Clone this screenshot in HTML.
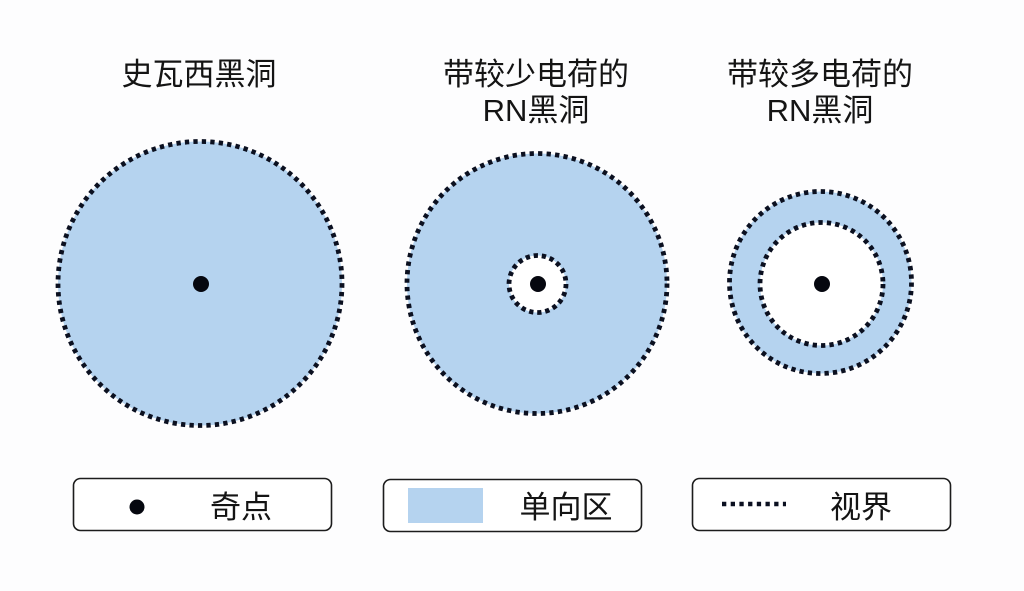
<!DOCTYPE html>
<html>
<head>
<meta charset="utf-8">
<style>
  html, body { margin:0; padding:0; background:#fdfdfe; }
  svg { display:block; }
  text { font-family: "Liberation Sans", "Noto Sans CJK SC", sans-serif; fill:#141414; font-size:31px; }
</style>
</head>
<body>
<svg width="1024" height="591" viewBox="0 0 1024 591" xmlns="http://www.w3.org/2000/svg">
  <rect x="0" y="0" width="1024" height="591" fill="#fdfdfe"/>

  <!-- Titles -->
  <text x="199" y="85" text-anchor="middle">史瓦西黑洞</text>
  <text x="536" y="85" text-anchor="middle">带较少电荷的</text>
  <text x="536" y="121" text-anchor="middle">RN黑洞</text>
  <text x="820" y="85" text-anchor="middle">带较多电荷的</text>
  <text x="820" y="121" text-anchor="middle">RN黑洞</text>

  <!-- Schwarzschild -->
  <circle cx="200" cy="283.5" r="142" fill="#b5d3ef"/>
  <circle cx="200" cy="283.5" r="142" fill="none" stroke="#0b1020" stroke-width="4.8" stroke-dasharray="4.3 4.19"/>
  <circle cx="201" cy="284" r="8" fill="#05070f"/>

  <!-- RN few charge -->
  <circle cx="537" cy="283.5" r="130" fill="#b5d3ef"/>
  <circle cx="537" cy="283.5" r="130" fill="none" stroke="#0b1020" stroke-width="4.8" stroke-dasharray="4.3 4.22"/>
  <circle cx="537.5" cy="284" r="28.5" fill="#ffffff"/>
  <circle cx="537.5" cy="284" r="28.5" fill="none" stroke="#0b1020" stroke-width="4.8" stroke-dasharray="4.3 3.84"/>
  <circle cx="538" cy="284" r="8" fill="#05070f"/>

  <!-- RN more charge -->
  <circle cx="820.5" cy="282.5" r="91" fill="#b5d3ef"/>
  <circle cx="820.5" cy="282.5" r="91" fill="none" stroke="#0b1020" stroke-width="4.8" stroke-dasharray="4.3 4.11"/>
  <circle cx="821.5" cy="284" r="61.5" fill="#ffffff"/>
  <circle cx="821.5" cy="284" r="61.5" fill="none" stroke="#0b1020" stroke-width="4.8" stroke-dasharray="4.3 4.13"/>
  <circle cx="822" cy="284" r="8" fill="#05070f"/>

  <!-- Legend boxes -->
  <rect x="73.5" y="478.5" width="258" height="52" rx="7" ry="7" fill="#ffffff" stroke="#1c1c1c" stroke-width="1.6"/>
  <circle cx="137" cy="507" r="7.5" fill="#05070f"/>
  <text x="241" y="518" text-anchor="middle">奇点</text>

  <rect x="383.5" y="479.5" width="258" height="52" rx="7" ry="7" fill="#ffffff" stroke="#1c1c1c" stroke-width="1.6"/>
  <rect x="408" y="488" width="75" height="35" fill="#b5d3ef"/>
  <text x="566" y="518" text-anchor="middle">单向区</text>

  <rect x="692.5" y="478.5" width="258" height="52" rx="7" ry="7" fill="#ffffff" stroke="#1c1c1c" stroke-width="1.6"/>
  <line x1="722" y1="504" x2="786" y2="504" stroke="#0b1020" stroke-width="4.5" stroke-dasharray="4.3 4.4"/>
  <text x="861" y="518" text-anchor="middle">视界</text>
</svg>
</body>
</html>
